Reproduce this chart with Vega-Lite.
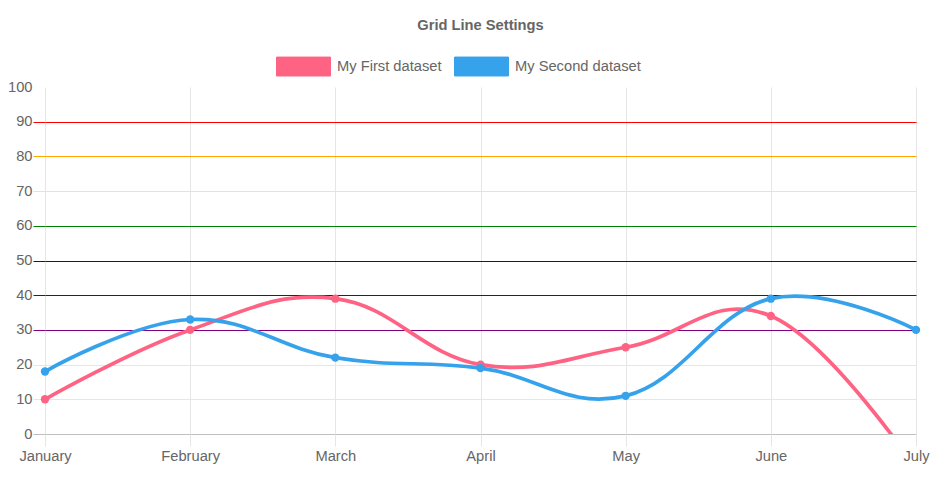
{
  "$schema": "https://vega.github.io/schema/vega-lite/v6.json",
  "autosize": {"type": "none"},
  "width": 871,
  "height": 347,
  "padding": {"left": 45, "top": 87, "right": 29, "bottom": 49},
  "background": "white",
  "config": {
    "view": {"stroke": null},
    "font": "Liberation Sans"
  },
  "title": {
    "text": "Grid Line Settings",
    "anchor": "middle",
    "fontSize": 14.7,
    "fontWeight": "bold",
    "color": "#666666",
    "font": "Liberation Sans",
    "frame": "group",
    "offset": 6
  },
  "data": {
    "values": [
      {"month": "January", "series": "My First dataset", "value": 10},
      {"month": "February", "series": "My First dataset", "value": 30},
      {"month": "March", "series": "My First dataset", "value": 39},
      {"month": "April", "series": "My First dataset", "value": 20},
      {"month": "May", "series": "My First dataset", "value": 25},
      {"month": "June", "series": "My First dataset", "value": 34},
      {"month": "July", "series": "My First dataset", "value": -10},
      {"month": "January", "series": "My Second dataset", "value": 18},
      {"month": "February", "series": "My Second dataset", "value": 33},
      {"month": "March", "series": "My Second dataset", "value": 22},
      {"month": "April", "series": "My Second dataset", "value": 19},
      {"month": "May", "series": "My Second dataset", "value": 11},
      {"month": "June", "series": "My Second dataset", "value": 39},
      {"month": "July", "series": "My Second dataset", "value": 30}
    ]
  },
  "encoding": {
    "x": {
      "field": "month",
      "type": "ordinal",
      "sort": null,
      "scale": {"type": "point", "padding": 0},
      "axis": {
        "title": null,
        "labelAngle": 0,
        "labelFontSize": 14.7,
        "labelColor": "#666666",
        "labelFont": "Liberation Sans",
        "labelPadding": 2,
        "tickSize": 12,
        "tickColor": "#e6e6e6",
        "gridColor": "#e6e6e6",
        "grid": true,
        "domain": false,
        "zindex": 0
      }
    },
    "y": {
      "field": "value",
      "type": "quantitative",
      "scale": {"domain": [0, 100], "nice": false, "zero": false},
      "axis": {
        "title": null,
        "values": [0, 10, 20, 30, 40, 50, 60, 70, 80, 90, 100],
        "labelFontSize": 14.7,
        "labelColor": "#666666",
        "labelFont": "Liberation Sans",
        "labelPadding": 1,
        "tickSize": 12,
        "domain": false,
        "grid": true,
        "zindex": 0,
        "gridColor": {"expr": "datum.value == 0 ? '#bfbfbf' : datum.value == 30 ? '#800080' : datum.value == 40 ? '#4b0082' : datum.value == 50 ? '#0000ff' : datum.value == 60 ? '#008000' : datum.value == 70 ? '#ffff00' : datum.value == 80 ? '#ffa500' : datum.value == 90 ? '#ff0000' : datum.value == 100 ? 'transparent' : '#e6e6e6'"},
        "tickColor": {"expr": "datum.value == 0 ? '#bfbfbf' : datum.value == 30 ? '#800080' : datum.value == 40 ? '#4b0082' : datum.value == 50 ? '#0000ff' : datum.value == 60 ? '#008000' : datum.value == 70 ? '#ffff00' : datum.value == 80 ? '#ffa500' : datum.value == 90 ? '#ff0000' : datum.value == 100 ? 'transparent' : '#e6e6e6'"}
      }
    },
    "color": {
      "field": "series",
      "type": "nominal",
      "scale": {
        "domain": ["My First dataset", "My Second dataset"],
        "range": ["#ff6384", "#36a2eb"]
      },
      "legend": {
        "title": null,
        "orient": "none",
        "direction": "horizontal",
        "legendX": 231,
        "legendY": -48,
        "symbolType": "M-1,-0.35H1V0.35H-1Z",
        "symbolSize": 2916,
        "symbolStrokeWidth": 1,
        "symbolOpacity": 1,
        "labelFontSize": 14.7,
        "labelColor": "#666666",
        "labelFont": "Liberation Sans",
        "labelOffset": 6,
        "columnPadding": 10
      }
    }
  },
  "layer": [
    {
      "mark": {
        "type": "line",
        "interpolate": "cardinal",
        "tension": -0.2,
        "strokeWidth": 3.7,
        "clip": true
      }
    },
    {
      "transform": [{"filter": "datum.value >= 0"}],
      "mark": {
        "type": "point",
        "filled": true,
        "size": 70,
        "opacity": 1
      }
    }
  ]
}
